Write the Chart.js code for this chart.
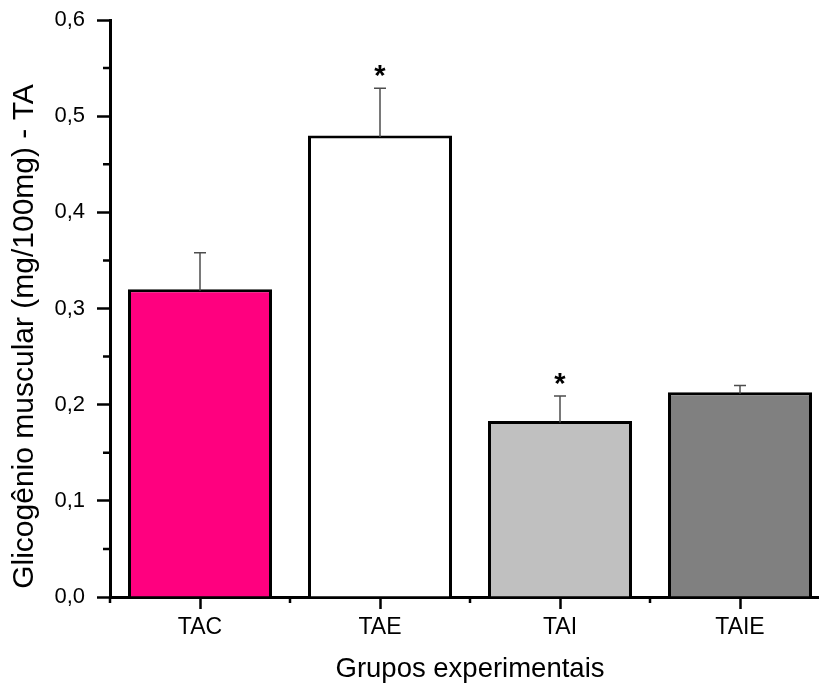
<!DOCTYPE html>
<html>
<head>
<meta charset="utf-8">
<script src="https://cdn.jsdelivr.net/npm/chart.js@4/dist/chart.umd.min.js"></script>
<style>
  html, body { margin: 0; padding: 0; background: #fff; overflow: hidden; }
  #wrap { position: absolute; left: 0; top: 0; width: 840px; height: 691px; }
</style>
</head>
<body>
<div id="wrap"><canvas id="c" width="840" height="691"></canvas></div>
<script>
// Glycogen content per experimental group (mean and upper SD)
const groups = ['TAC', 'TAE', 'TAI', 'TAIE'];
const glycogen = [0.32, 0.48, 0.183, 0.213];
const errors = [0.038, 0.049, 0.026, 0.007];
const significance = ['', '*', '*', ''];
const barColors = ['#FF007F', '#FFFFFF', '#C0C0C0', '#808080'];
const yTicks = [0, 0.1, 0.2, 0.3, 0.4, 0.5, 0.6];
const yTitle = 'Glicogênio muscular (mg/100mg) - TA';
const xTitle = 'Grupos experimentais';

const FONT = '"Liberation Sans", Arial, sans-serif';

// Short minor ticks between the labelled ones on both axes
const minorTicks = {
  id: 'minorTicks',
  afterDraw(chart) {
    const { ctx, scales: { x, y }, chartArea } = chart;
    ctx.save();
    ctx.strokeStyle = '#000';
    ctx.lineWidth = 2.5;
    ctx.beginPath();
    for (let i = 0; i < yTicks.length - 1; i++) {
      const py = y.getPixelForValue((yTicks[i] + yTicks[i + 1]) / 2);
      ctx.moveTo(chartArea.left - 7, py);
      ctx.lineTo(chartArea.left, py);
    }
    const half = (x.getPixelForValue(1) - x.getPixelForValue(0)) / 2;
    for (let i = 0; i <= groups.length; i++) {
      const px = x.getPixelForValue(i) - half;
      ctx.moveTo(px, chartArea.bottom);
      ctx.lineTo(px, chartArea.bottom + 6);
    }
    ctx.stroke();
    ctx.restore();
  }
};

// Vertical axis title, placed a little below the plot's middle
const yAxisTitle = {
  id: 'yAxisTitle',
  afterDraw(chart) {
    const { ctx, chartArea } = chart;
    ctx.save();
    ctx.translate(25, (chartArea.top + chartArea.bottom) / 2 + 28);
    ctx.rotate(-Math.PI / 2);
    ctx.fillStyle = '#000';
    ctx.font = '30px ' + FONT;
    ctx.textAlign = 'center';
    ctx.textBaseline = 'middle';
    ctx.fillText(yTitle, 0, 0);
    ctx.restore();
  }
};

// Upper error whiskers and significance marks
const errorBars = {
  id: 'errorBars',
  afterDatasetsDraw(chart) {
    const { ctx, scales: { y } } = chart;
    const meta = chart.getDatasetMeta(0);
    ctx.save();
    meta.data.forEach((bar, i) => {
      const top = y.getPixelForValue(glycogen[i] + errors[i]);
      ctx.strokeStyle = '#4d4d4d';
      ctx.lineWidth = 1.5;
      ctx.beginPath();
      ctx.moveTo(bar.x, bar.y + 1.5);
      ctx.lineTo(bar.x, top);
      ctx.moveTo(bar.x - 6, top);
      ctx.lineTo(bar.x + 6, top);
      ctx.stroke();
      if (significance[i]) {
        ctx.fillStyle = '#000';
        ctx.font = 'bold 29px ' + FONT;
        ctx.textAlign = 'center';
        ctx.textBaseline = 'alphabetic';
        ctx.fillText(significance[i], bar.x, top - 3);
      }
    });
    ctx.restore();
  }
};

new Chart(document.getElementById('c'), {
  type: 'bar',
  data: {
    labels: groups,
    datasets: [{
      data: glycogen,
      backgroundColor: barColors,
      borderColor: '#000',
      borderWidth: 3,
      borderSkipped: 'start',
      barPercentage: 0.8,
      categoryPercentage: 1.0
    }]
  },
  options: {
    responsive: false,
    devicePixelRatio: 1,
    animation: false,
    layout: { padding: { top: 20, right: 10, left: 0, bottom: 5 } },
    plugins: { legend: { display: false }, tooltip: { enabled: false } },
    scales: {
      y: {
        min: 0,
        max: 0.6,
        afterBuildTicks(scale) { scale.ticks = yTicks.map(v => ({ value: v })); },
        afterFit(scale) { scale.width = 110; scale.paddingTop = 0; scale.paddingBottom = 0; },
        ticks: {
          color: '#000',
          padding: 12,
          font: { family: FONT, size: 22, lineHeight: 0.9 },
          callback: v => Number(v).toFixed(1).replace('.', ',')
        },
        grid: { drawOnChartArea: false, drawTicks: true, tickLength: 13, tickWidth: 2.5, tickColor: '#000' },
        border: { display: true, color: '#000', width: 3 }
      },
      x: {
        afterFit(scale) { scale.height = 89; },
        ticks: { color: '#000', padding: 5, font: { family: FONT, size: 23 } },
        grid: { drawOnChartArea: false, offset: false, drawTicks: true, tickLength: 12, tickWidth: 2.5, tickColor: '#000' },
        border: { display: true, color: '#000', width: 3 },
        title: {
          display: true,
          text: xTitle,
          color: '#000',
          font: { family: FONT, size: 27.5 },
          padding: { top: 0, bottom: 0 }
        }
      }
    }
  },
  plugins: [minorTicks, errorBars, yAxisTitle]
});
</script>
</body>
</html>
